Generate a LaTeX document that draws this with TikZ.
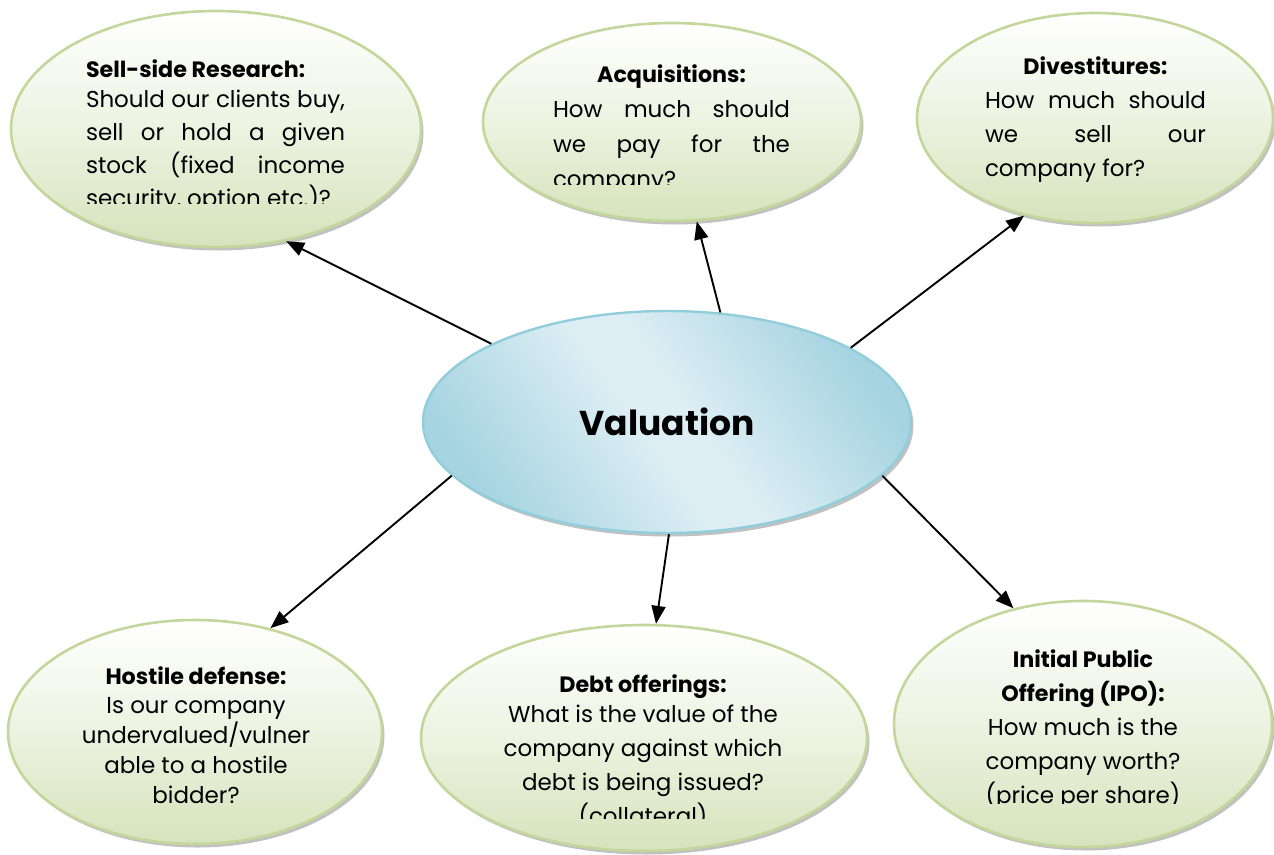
\documentclass[tikz,border=0pt]{standalone}
\usepackage{fontspec}
\setmainfont{Poppins}
\usetikzlibrary{shapes.geometric,arrows.meta,shadows}

\definecolor{bubbleedge}{RGB}{195,214,155}
\definecolor{bubblebottom}{RGB}{214,227,188}
\definecolor{coredark}{RGB}{166,212,225}
\definecolor{corelight}{RGB}{221,238,244}
\definecolor{coreedge}{RGB}{146,205,220}

\pgfdeclarehorizontalshading{coreshade}{100bp}{color(0bp)=(coredark); color(25bp)=(coredark); color(47bp)=(corelight); color(53bp)=(corelight); color(75bp)=(coredark); color(100bp)=(coredark)}

\newcommand\headf{\fontsize{22.2}{34}\bfseries\selectfont}
\newcommand\bodyf[1]{\fontsize{23}{#1}\mdseries\selectfont}
\newcommand\jline[1]{\makebox[\linewidth][s]{#1}\par}

\tikzset{
  softshadow/.style={drop shadow={shadow xshift=2.5pt, shadow yshift=-3.5pt, opacity=0.35, fill=black!70}},
  bubble/.style={ellipse, draw=bubbleedge, line width=2.6pt, top color=white,
    bottom color=bubblebottom, middle color=bubblebottom!45!white, inner sep=0pt, softshadow},
  core/.style={ellipse, draw=coreedge, line width=2.4pt, shading=coreshade,
    shading angle=35, inner sep=0pt, softshadow},
  txt/.style={inner sep=0pt, outer sep=0pt},
  conn/.style={line width=1.9pt, -{Triangle[length=18pt,width=14pt]}}
}

\begin{document}
\begin{tikzpicture}[x=1pt,y=-1pt]
\useasboundingbox (0,0) rectangle (1274,854);

% outer question bubbles
\node[bubble, minimum width=410pt, minimum height=236pt] (sell) at (216,129) {};
\node[bubble, minimum width=378pt, minimum height=198pt] (acq)  at (672,122) {};
\node[bubble, minimum width=356pt, minimum height=210pt] (div)  at (1095,118) {};
\node[bubble, minimum width=374pt, minimum height=224pt] (host) at (195,732) {};
\node[bubble, minimum width=446pt, minimum height=226pt] (debt) at (644,738) {};
\node[bubble, minimum width=378pt, minimum height=246pt] (ipo)  at (1083,724) {};

% central topic
\node[core, minimum width=488pt, minimum height=222pt] (val) at (667,422)
  {\fontsize{34.5}{42}\bfseries\selectfont Valuation};

% question texts, cut off at the bottom of their text frames
\begin{scope}
\clip (0,0) rectangle (1274,203);
\node[txt, anchor=base west] (selltxt) at (86,77) {\parbox[t]{259pt}{%
  \headf Sell-side Research:\par
  \bodyf{33.3}\vspace{-3.3pt}%
  \jline{Should our clients buy,}
  \jline{sell or hold a given}
  \jline{stock (fixed income}
  security, option etc.)?\par}};
\end{scope}

\begin{scope}
\clip (0,0) rectangle (1274,184);
\node[txt, anchor=base west] (acqtxt) at (553,82) {\parbox[t]{237pt}{%
  {\centering\headf Acquisitions:\par}
  \bodyf{35}%
  \jline{How much should}
  \jline{we pay for the}
  company?\par}};
\end{scope}

\node[txt, anchor=base west] (divtxt) at (985,74) {\parbox[t]{221pt}{%
  {\centering\headf Divestitures:\par}
  \bodyf{34}%
  \jline{How much should}
  \jline{we sell our}
  company for?\par}};

\node[txt, anchor=base] (hosttxt) at (196,684) {\parbox[t]{280pt}{\centering
  \headf Hostile defense:\par
  \bodyf{30}\vspace{-1pt}%
  Is our company\par
  undervalued/vulner\par
  able to a hostile\par
  bidder?\par}};

\begin{scope}
\clip (0,0) rectangle (1274,818);
\node[txt, anchor=base] (debttxt) at (643,692) {\parbox[t]{340pt}{\centering
  \headf Debt offerings:\par
  \bodyf{34}\vspace{-4pt}%
  What is the value of the\par
  company against which\par
  debt is being issued?\par
  (collateral)\par}};
\end{scope}

\begin{scope}
\clip (0,0) rectangle (1274,803);
\node[txt, anchor=base] (ipotxt) at (1083,667) {\parbox[t]{300pt}{\centering
  \headf Initial Public\par
  Offering (IPO):\par
  \bodyf{34}%
  How much is the\par
  company worth?\par
  (price per share)\par}};
\end{scope}

% connectors from the central topic
\draw[conn] (val.156.7) -- (sell.302.7);
\draw[conn] (val.64.7)  -- (acq.284);
\draw[conn] (val.22.3)  -- (div.234.6);
\draw[conn] (val.194.6) -- (host.54.4);
\draw[conn] (val.271.5) -- (debt.84.7);
\draw[conn] (val.346.3) -- (ipo.121.3);
\end{tikzpicture}
\end{document}
